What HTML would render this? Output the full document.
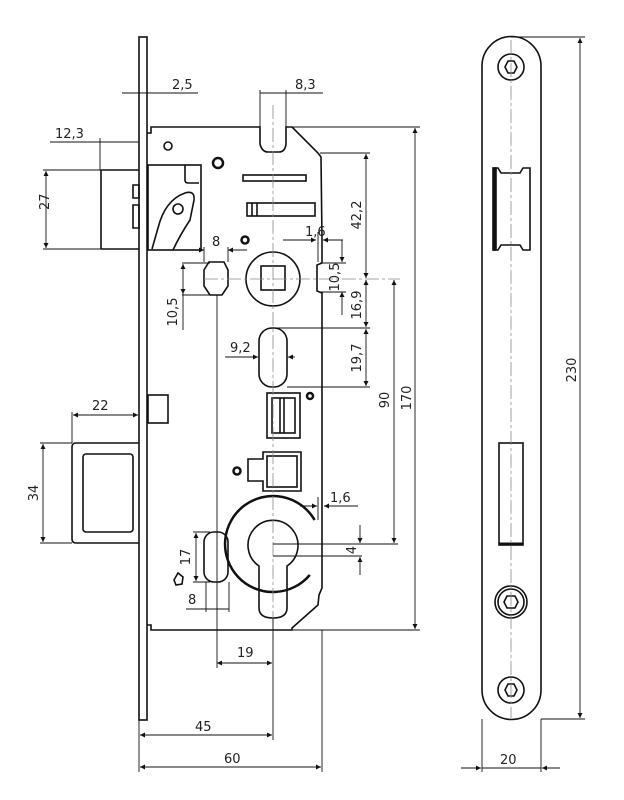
<!DOCTYPE html>
<html><head><meta charset="utf-8"><style>
html,body{margin:0;padding:0;background:#fff}
svg{display:block}
text{font-family:"DejaVu Sans","Liberation Sans",sans-serif;font-size:13px;fill:#222}
</style></head><body>
<svg width="624" height="800" viewBox="0 0 624 800" xmlns="http://www.w3.org/2000/svg">
<defs>
<marker id="a" viewBox="0 0 10 10" refX="10" refY="5" markerWidth="7" markerHeight="5" orient="auto-start-reverse" markerUnits="userSpaceOnUse"><path d="M0,0 L10,5 L0,10z" fill="#111"/></marker>
</defs>
<g fill="none" stroke="#111" stroke-width="1.6">
<rect x="139" y="37" width="8" height="683"/>
<path d="M147,133 L151,133 L151,127 L260,127 L260,144 Q262,152 268,152 L279,152 Q285,152 286,144 L286,127 L292,127 L318,153 L321,157 L322,240 L322,263 L317,265 L317,291 L322,293 L322,588 L319,595 L318,605 L292,628 L292,630 L151,630 L151,625 L147,625"/>
<path d="M101,170 L139,170 M101,249 L139,249 M101,170 L101,249" />
<path d="M133,185 L139,185 L139,198 L133,198z M133,205 L139,205 L139,228 L133,228z"/>
<rect x="148" y="165" width="53" height="85"/>
<path d="M185,165 L185,180 Q185,183 188,183 L199,183"/>
<path d="M152,249 L158,228 Q165,200 185,193 Q195,190 194,200 L190,220 Q180,235 173,250"/>
<circle cx="178" cy="209" r="5"/>
<circle cx="168" cy="146" r="4"/>
<circle cx="218" cy="163" r="5" stroke-width="2.5"/>
<circle cx="245" cy="240" r="3.5" stroke-width="2.5"/>
<rect x="243" y="175" width="63" height="6"/>
<rect x="247" y="203" width="68" height="13"/>
<line x1="252" y1="203" x2="252" y2="216"/><line x1="257" y1="203" x2="257" y2="216"/>
<path d="M209,262 L224,262 L228,270 L228,286 L222,295 L210,295 L204,286 L204,270z"/>
<rect x="204" y="532" width="24" height="50" rx="10"/>
<circle cx="273" cy="279" r="27"/>
<rect x="261" y="266" width="24" height="24"/>
<rect x="259" y="328" width="28" height="59" rx="13"/>
<rect x="267" y="393" width="33" height="45"/>
<rect x="272" y="398" width="23" height="35"/>
<line x1="280" y1="398" x2="280" y2="433"/><line x1="284" y1="398" x2="284" y2="433"/>
<circle cx="310" cy="396" r="3" stroke-width="2.5"/>
<rect x="148" y="395" width="20" height="28"/>
<path d="M139,443 L76,443 Q72,443 72,447 L72,539 Q72,543 76,543 L139,543"/>
<rect x="83" y="454" width="50" height="78" rx="3"/>
<path d="M263,452 L301,452 L301,491 L263,491 L263,481 L248,481 L248,459 L263,459z"/>
<rect x="267" y="456" width="30" height="31"/>
<circle cx="237" cy="471" r="3.5" stroke-width="2.5"/>
<path d="M314.6,520 A48,48 0 1 0 309.8,574.9" stroke-width="2.5"/>
<path d="M259,566 A25,25 0 1 1 287,566 L287,608 Q287,618 273,618 Q259,618 259,608 Z"/>
<path d="M174,580 L178,573 L183,577 L182,584 L176,585z"/>
<path d="M482,66 A29,29 0 0 1 541,66 L541,690 A29,29 0 0 1 482,690z"/>
<circle cx="511" cy="67" r="13"/>
<path d="M505,67 L508,61 L514,61 L517,67 L514,73 L508,73z"/>
<circle cx="511" cy="602" r="16"/><circle cx="511" cy="602" r="13"/>
<path d="M504,602 L507,596 L515,596 L518,602 L515,608 L507,608z"/>
<circle cx="511" cy="690" r="13"/>
<path d="M505,690 L508,684 L514,684 L517,690 L514,696 L508,696z"/>
<path d="M494,168 L498,168 L501,173 L520,173 L523,168 L530,168 L530,250 L523,250 L520,245 L501,245 L498,250 L494,250z"/>
<rect x="493" y="168" width="3" height="82" fill="#111"/>
<rect x="499" y="443" width="24" height="102"/>
<line x1="499" y1="544" x2="523" y2="544" stroke-width="3"/>
</g>
<g stroke="#888" stroke-width="0.8" fill="none" stroke-dasharray="14,3,3,3">
<line x1="273" y1="105" x2="273" y2="640"/>
<line x1="511" y1="40" x2="511" y2="718"/>
<line x1="204" y1="279" x2="400" y2="279"/>
</g>
<g stroke="#111" stroke-width="0.9" fill="none">
<line x1="122" y1="93" x2="198" y2="93" /><line x1="139" y1="88" x2="139" y2="98"/><line x1="147" y1="88" x2="147" y2="98"/>
<line x1="260" y1="93" x2="323" y2="93"/><line x1="260" y1="90" x2="260" y2="127"/><line x1="286" y1="90" x2="286" y2="127"/>
<line x1="50" y1="142" x2="139" y2="142"/><line x1="100" y1="138" x2="100" y2="170"/>
<line x1="43" y1="170" x2="101" y2="170"/><line x1="43" y1="249" x2="101" y2="249"/>
<line x1="46" y1="171" x2="46" y2="248" marker-start="url(#a)" marker-end="url(#a)"/>
<line x1="286" y1="127" x2="420" y2="127"/><line x1="292" y1="630" x2="420" y2="630"/>
<line x1="415" y1="128" x2="415" y2="629" marker-start="url(#a)" marker-end="url(#a)"/>
<line x1="320" y1="153" x2="370" y2="153"/>
<line x1="366" y1="154" x2="366" y2="278" marker-start="url(#a)" marker-end="url(#a)"/>
<line x1="366" y1="280" x2="366" y2="327" marker-start="url(#a)" marker-end="url(#a)"/>
<line x1="366" y1="329" x2="366" y2="386" marker-start="url(#a)" marker-end="url(#a)"/>
<line x1="273" y1="328" x2="370" y2="328"/><line x1="287" y1="387" x2="370" y2="387"/>
<line x1="394" y1="280" x2="394" y2="543" marker-start="url(#a)" marker-end="url(#a)"/>
<line x1="273" y1="544" x2="398" y2="544"/>
<line x1="283" y1="240" x2="316" y2="240" marker-end="url(#a)"/><line x1="343" y1="240" x2="323" y2="240" marker-end="url(#a)"/>
<line x1="318" y1="232" x2="318" y2="262"/><line x1="322" y1="232" x2="322" y2="262"/>
<line x1="342" y1="240" x2="342" y2="262" marker-end="url(#a)"/><line x1="342" y1="315" x2="342" y2="292" marker-end="url(#a)"/>
<line x1="320" y1="263" x2="346" y2="263"/><line x1="320" y1="292" x2="346" y2="292"/>
<line x1="183" y1="250" x2="204" y2="250" marker-end="url(#a)"/><line x1="247" y1="250" x2="228" y2="250" marker-end="url(#a)"/>
<line x1="204" y1="247" x2="204" y2="262"/><line x1="228" y1="247" x2="228" y2="262"/>
<line x1="182" y1="263" x2="210" y2="263"/><line x1="182" y1="295" x2="210" y2="295"/>
<line x1="183" y1="264" x2="183" y2="294" marker-start="url(#a)" marker-end="url(#a)"/>
<line x1="183" y1="294" x2="183" y2="330"/>
<line x1="225" y1="357" x2="258" y2="357" marker-end="url(#a)"/><line x1="295" y1="357" x2="288" y2="357" marker-end="url(#a)"/>
<line x1="217" y1="295" x2="217" y2="668"/>
<line x1="217" y1="663" x2="272" y2="663" marker-start="url(#a)" marker-end="url(#a)"/>
<line x1="273" y1="618" x2="273" y2="740"/>
<line x1="140" y1="735" x2="272" y2="735" marker-start="url(#a)" marker-end="url(#a)"/>
<line x1="139" y1="720" x2="139" y2="772"/><line x1="322" y1="630" x2="322" y2="772"/>
<line x1="140" y1="767" x2="321" y2="767" marker-start="url(#a)" marker-end="url(#a)"/>
<line x1="72" y1="412" x2="72" y2="443"/>
<line x1="73" y1="415" x2="138" y2="415" marker-start="url(#a)" marker-end="url(#a)"/>
<line x1="40" y1="443" x2="72" y2="443"/><line x1="40" y1="543" x2="72" y2="543"/>
<line x1="43" y1="444" x2="43" y2="542" marker-start="url(#a)" marker-end="url(#a)"/>
<line x1="193" y1="532" x2="210" y2="532"/><line x1="193" y1="582" x2="210" y2="582"/>
<line x1="196" y1="533" x2="196" y2="581" marker-start="url(#a)" marker-end="url(#a)"/>
<line x1="186" y1="609" x2="229" y2="609"/><line x1="206" y1="582" x2="206" y2="612"/><line x1="229" y1="582" x2="229" y2="612"/>
<line x1="273" y1="556" x2="362" y2="556"/>
<line x1="360" y1="525" x2="360" y2="543" marker-end="url(#a)"/><line x1="360" y1="575" x2="360" y2="557" marker-end="url(#a)"/>
<line x1="300" y1="506" x2="317" y2="506" marker-end="url(#a)"/><line x1="358" y1="506" x2="324" y2="506" marker-end="url(#a)"/>
<line x1="318" y1="497" x2="318" y2="520"/>
<line x1="511" y1="37" x2="585" y2="37"/><line x1="541" y1="719" x2="585" y2="719"/>
<line x1="580" y1="38" x2="580" y2="718" marker-start="url(#a)" marker-end="url(#a)"/>
<line x1="482" y1="719" x2="482" y2="772"/><line x1="541" y1="719" x2="541" y2="772"/>
<line x1="461" y1="768" x2="481" y2="768" marker-end="url(#a)"/><line x1="560" y1="768" x2="542" y2="768" marker-end="url(#a)"/>
<line x1="482" y1="768" x2="541" y2="768"/>
</g>
<g>
<text x="172" y="89">2,5</text>
<text x="295" y="89">8,3</text>
<text x="55" y="138">12,3</text>
<text x="40" y="219" transform="rotate(-90 40 210)">27</text>
<text x="212" y="246">8</text>
<text x="305" y="236">1,6</text>
<text x="177" y="312" transform="rotate(-90 177 312)" text-anchor="middle">10,5</text>
<text x="339" y="277" transform="rotate(-90 339 277)" text-anchor="middle">10,5</text>
<text x="361" y="215" transform="rotate(-90 361 215)" text-anchor="middle">42,2</text>
<text x="361" y="305" transform="rotate(-90 361 305)" text-anchor="middle">16,9</text>
<text x="361" y="358" transform="rotate(-90 361 358)" text-anchor="middle">19,7</text>
<text x="389" y="400" transform="rotate(-90 389 400)" text-anchor="middle">90</text>
<text x="411" y="398" transform="rotate(-90 411 398)" text-anchor="middle">170</text>
<text x="230" y="352">9,2</text>
<text x="92" y="410">22</text>
<text x="38" y="493" transform="rotate(-90 38 493)" text-anchor="middle">34</text>
<text x="330" y="502">1,6</text>
<text x="356" y="550" transform="rotate(-90 356 550)" text-anchor="middle">4</text>
<text x="190" y="557" transform="rotate(-90 190 557)" text-anchor="middle">17</text>
<text x="188" y="604">8</text>
<text x="237" y="657">19</text>
<text x="195" y="731">45</text>
<text x="224" y="763">60</text>
<text x="576" y="370" transform="rotate(-90 576 370)" text-anchor="middle">230</text>
<text x="500" y="764">20</text>
</g>
</svg>
</body></html>
